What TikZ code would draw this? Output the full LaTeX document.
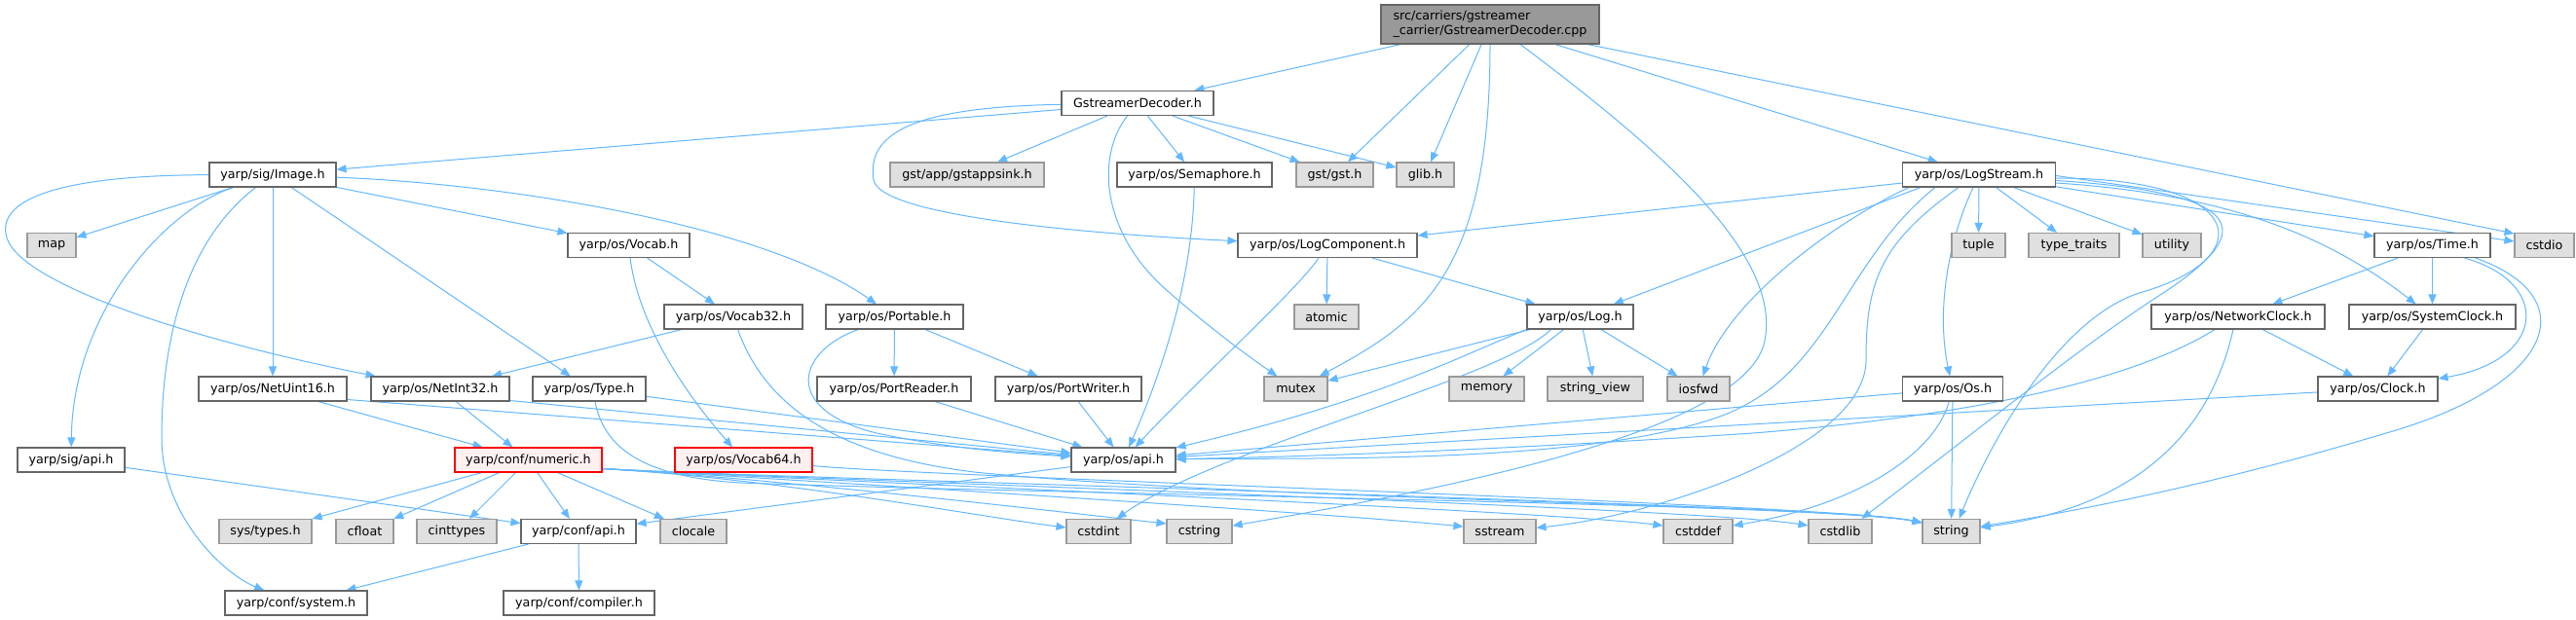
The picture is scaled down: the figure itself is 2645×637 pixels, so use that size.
\documentclass[tikz,border=0pt]{standalone}
\usepackage{fontspec}
\setmainfont{DejaVu Sans}
\usetikzlibrary{arrows.meta}
\definecolor{edgec}{HTML}{63B8FF}
\definecolor{cSix}{HTML}{666666}
\definecolor{cNine}{HTML}{999999}
\definecolor{cExt}{HTML}{E0E0E0}
\definecolor{cRed}{HTML}{FF0000}
\definecolor{cPink}{HTML}{FFF0F0}
\newcommand\dxfont{\fontsize{12.7bp}{15bp}\selectfont}
\pgfdeclarelayer{bg}
\pgfsetlayers{bg,main}
\tikzset{
 nd/.style={draw=cSix, fill=white, line width=1.1bp, minimum height=25bp, inner sep=0pt, font=\dxfont},
 ext/.style={nd, draw=cNine, fill=cExt},
 trunc/.style={nd, draw=cRed, fill=cPink},
 rootnd/.style={nd, draw=cSix, fill=cNine},
 dep/.style={draw=edgec, line width=1bp, -{Triangle[length=10bp,width=8bp]}},
}
\begin{document}
\begin{tikzpicture}[x=1bp,y=-1bp]
\useasboundingbox (0,0) rectangle (2645,637);
% nodes
\node[rootnd, minimum width=224bp, minimum height=40bp, align=left] (root) at (1530,25) {src/carriers/gstreamer\\\_carrier/GstreamerDecoder.cpp};
\node[nd, minimum width=156bp] (gdh) at (1168,106) {GstreamerDecoder.h};
\node[nd, minimum width=130bp] (image) at (280,179.5) {yarp/sig/Image.h};
\node[ext, minimum width=158bp] (gstappsink) at (993,179.5) {gst/app/gstappsink.h};
\node[nd, minimum width=159bp] (semaphore) at (1226.5,179.5) {yarp/os/Semaphore.h};
\node[ext, minimum width=79bp] (gstgst) at (1370.5,179.5) {gst/gst.h};
\node[ext, minimum width=59bp] (glib) at (1463.5,179.5) {glib.h};
\node[nd, minimum width=157bp] (logstream) at (2032,179.5) {yarp/os/LogStream.h};
\node[ext, minimum width=50bp] (map) at (53,252) {map};
\node[nd, minimum width=125bp] (vocab) at (645.5,252) {yarp/os/Vocab.h};
\node[nd, minimum width=184bp] (logcomp) at (1363,252) {yarp/os/LogComponent.h};
\node[ext, minimum width=55bp] (tuple) at (2031.5,252) {tuple};
\node[ext, minimum width=93bp] (typetraits) at (2129.5,252) {type\_traits};
\node[ext, minimum width=60bp] (utility) at (2230,252) {utility};
\node[nd, minimum width=119bp] (time) at (2497.5,252) {yarp/os/Time.h};
\node[ext, minimum width=61bp] (cstdio) at (2612.5,252) {cstdio};
\node[nd, minimum width=142bp] (vocab32) at (753,325.5) {yarp/os/Vocab32.h};
\node[nd, minimum width=141bp] (portable) at (918.5,325.5) {yarp/os/Portable.h};
\node[ext, minimum width=66bp] (atomic) at (1362,325.5) {atomic};
\node[nd, minimum width=109bp] (log) at (1622.5,325.5) {yarp/os/Log.h};
\node[nd, minimum width=178bp] (netclock) at (2298,325.5) {yarp/os/NetworkClock.h};
\node[nd, minimum width=171bp] (sysclock) at (2497.5,325.5) {yarp/os/SystemClock.h};
\node[nd, minimum width=152bp] (netuint16) at (280,399.5) {yarp/os/NetUint16.h};
\node[nd, minimum width=142bp] (netint32) at (452,399.5) {yarp/os/NetInt32.h};
\node[nd, minimum width=116bp] (type) at (605,399.5) {yarp/os/Type.h};
\node[nd, minimum width=158bp] (portreader) at (918,399.5) {yarp/os/PortReader.h};
\node[nd, minimum width=150bp] (portwriter) at (1097,399.5) {yarp/os/PortWriter.h};
\node[ext, minimum width=65bp] (mutex) at (1330.5,399.5) {mutex};
\node[ext, minimum width=77bp] (memory) at (1526.5,399.5) {memory};
\node[ext, minimum width=98bp] (stringview) at (1638,399.5) {string\_view};
\node[ext, minimum width=64bp] (iosfwd) at (1744,399.5) {iosfwd};
\node[nd, minimum width=103bp] (os) at (2005,399.5) {yarp/os/Os.h};
\node[nd, minimum width=123bp] (clock) at (2441.5,399.5) {yarp/os/Clock.h};
\node[nd, minimum width=110bp] (sigapi) at (73,472.5) {yarp/sig/api.h};
\node[trunc, minimum width=151bp] (numeric) at (542.5,472.5) {yarp/conf/numeric.h};
\node[trunc, minimum width=141bp] (vocab64) at (763.5,472.5) {yarp/os/Vocab64.h};
\node[nd, minimum width=107bp] (osapi) at (1153.5,472.5) {yarp/os/api.h};
\node[ext, minimum width=95bp] (systypes) at (272.5,546) {sys/types.h};
\node[ext, minimum width=59bp] (cfloat) at (374.5,546) {cfloat};
\node[ext, minimum width=82bp] (cinttypes) at (469,546) {cinttypes};
\node[nd, minimum width=118bp] (confapi) at (594,546) {yarp/conf/api.h};
\node[ext, minimum width=68bp] (clocale) at (712,546) {clocale};
\node[ext, minimum width=66bp] (cstdint) at (1128,546) {cstdint};
\node[ext, minimum width=67bp] (cstring) at (1231.5,546) {cstring};
\node[ext, minimum width=74bp] (sstream) at (1540,546) {sstream};
\node[ext, minimum width=71bp] (cstddef) at (1743.5,546) {cstddef};
\node[ext, minimum width=65bp] (cstdlib) at (1889.5,546) {cstdlib};
\node[ext, minimum width=59bp] (string) at (2003.5,546) {string};
\node[nd, minimum width=146bp] (confsystem) at (304,619.5) {yarp/conf/system.h};
\node[nd, minimum width=155bp] (confcompiler) at (594.5,619.5) {yarp/conf/compiler.h};

\begin{pgfonlayer}{bg}
\fill[white] (0,0) rectangle (2645,637);
% root
\draw[dep] (root) -- (gdh);
\draw[dep] (root) -- (gstgst);
\draw[dep] (root) -- (glib);
\draw[dep] (root.south) .. controls (1530,280) and (1460,330) .. (mutex);
\draw[dep] ([xshift=31bp]root.south) .. controls (1700,150) and (1830,260) .. (1812,350) .. controls (1795,440) and (1500,500) .. (cstring);
\draw[dep] (root) -- (logstream);
\draw[dep] (root) -- ([yshift=-1bp]cstdio.north west);
% GstreamerDecoder.h
\draw[dep] (gdh) -- (image);
\draw[dep] (gdh) -- (gstappsink);
\draw[dep] (gdh) -- (semaphore);
\draw[dep] (gdh) -- (gstgst);
\draw[dep] (gdh) -- (glib);
\draw[dep] (gdh) .. controls (930,110) and (890,140) .. (897,185) .. controls (905,225) and (1150,242) .. (logcomp);
\draw[dep] (gdh) .. controls (1125,160) and (1130,240) .. (1200,300) .. controls (1240,335) and (1280,365) .. (mutex);
% Image.h
\draw[dep] (image) -- (map);
\draw[dep] (image) -- (vocab);
\draw[dep] (image) .. controls (540,190) and (790,235) .. (portable);
\draw[dep] (image) -- (netuint16);
\draw[dep] (image) -- (type);
\draw[dep] (image) .. controls (60,180) and (0,205) .. (6,240) .. controls (12,290) and (200,350) .. (netint32);
\draw[dep] (image) .. controls (170,215) and (75,320) .. (sigapi);
\draw[dep] (image) .. controls (200,240) and (166,330) .. (166,450) .. controls (166,530) and (230,590) .. (confsystem);
% Vocab
\draw[dep] (vocab) -- (vocab32);
\draw[dep] (vocab) .. controls (655,330) and (700,400) .. (vocab64);
\draw[dep] (vocab32) -- (netint32);
\draw[dep] (vocab32) .. controls (790,430) and (880,470) .. (1000,485) .. controls (1300,515) and (1880,518) .. ([yshift=9bp]string.west);
\draw[dep] ([yshift=-6bp]vocab64.east) .. controls (950,490) and (1880,518) .. ([yshift=9bp]string.west);
% Portable
\draw[dep] (portable) -- (portreader);
\draw[dep] (portable) -- (portwriter);
\draw[dep] (portable) .. controls (820,360) and (800,420) .. (900,445) .. controls (980,462) and (1050,466) .. (osapi);
\draw[dep] (portreader) -- (osapi);
\draw[dep] (portwriter) -- (osapi);
\draw[dep] (semaphore) .. controls (1224,300) and (1185,400) .. (osapi);
% Net / Type
\draw[dep] (netuint16) -- (numeric);
\draw[dep] ([yshift=-11bp]netuint16.east) -- (osapi);
\draw[dep] (netint32) -- (numeric);
\draw[dep] ([yshift=-12bp]netint32.east) -- (osapi);
\draw[dep] (type) -- (osapi);
\draw[dep] ([xshift=6bp]type.south) .. controls (620,460) and (660,490) .. (760,496) .. controls (1100,508) and (1880,518) .. ([yshift=9bp]string.west);
\draw[dep] (sigapi) -- (confapi);
% numeric
\draw[dep] (numeric) -- (systypes);
\draw[dep] (numeric) -- (cfloat);
\draw[dep] (numeric) -- (cinttypes);
\draw[dep] (numeric) -- (confapi);
\draw[dep] (numeric) -- (clocale);
\coordinate (nuE) at ([yshift=-9bp]numeric.east);
\draw[dep] (nuE) .. controls (800,492) and (1000,530) .. ([yshift=4bp]cstdint.west);
\draw[dep] (nuE) .. controls (800,492) and (1080,525) .. ([yshift=8bp]cstring.west);
\draw[dep] (nuE) .. controls (800,492) and (1350,526) .. ([yshift=5bp]sstream.west);
\draw[dep] (nuE) .. controls (800,492) and (1580,524) .. ([yshift=6bp]cstddef.west);
\draw[dep] (nuE) .. controls (800,492) and (1740,521) .. ([yshift=6bp]cstdlib.west);
\draw[dep] (nuE) .. controls (800,492) and (1880,518) .. ([yshift=9bp]string.west);
% conf
\draw[dep] (confapi) -- (confsystem);
\draw[dep] (confapi) -- (confcompiler);
\draw[dep] (osapi) -- (confapi);
% LogComponent
\draw[dep] (logcomp) -- (atomic);
\draw[dep] (logcomp) -- (log);
\draw[dep] (logcomp) .. controls (1330,300) and (1230,390) .. (osapi);
% Log
\draw[dep] (log) -- (mutex);
\draw[dep] (log.south west) .. controls (1500,365) and (1420,410) .. (osapi);
\draw[dep] (log) -- (memory);
\draw[dep] (log) -- (stringview);
\draw[dep] (log) -- (iosfwd);
\draw[dep] ([xshift=-30bp]log.south) .. controls (1540,390) and (1250,460) .. (cstdint);
% LogStream
\draw[dep] (logstream) -- (logcomp);
\draw[dep] ([xshift=-60bp]logstream.south) -- (log);
\draw[dep] ([xshift=-72bp]logstream.south) .. controls (1880,230) and (1775,310) .. (iosfwd);
\draw[dep] ([xshift=-45bp]logstream.south) .. controls (1890,270) and (1880,390) .. (1760,430) .. controls (1620,477) and (1350,470) .. (osapi);
\draw[dep] ([xshift=-21bp]logstream.south) .. controls (1930,250) and (1916,290) .. (1916,370) .. controls (1916,460) and (1700,530) .. (sstream);
\draw[dep] (logstream) .. controls (1995,260) and (1990,330) .. (os);
\draw[dep] (logstream) -- (tuple);
\draw[dep] (logstream) -- (typetraits);
\draw[dep] (logstream) -- (utility);
\draw[dep] (logstream) -- (time);
\draw[dep] ([yshift=-1bp]logstream.east) -- ([yshift=4bp]cstdio.west);
\draw[dep] ([yshift=-3.5bp]logstream.east) .. controls (2310,183) and (2320,265) .. (2200,300) .. controls (2120,323) and (2050,440) .. ([xshift=8bp]string.north);
\draw[dep] ([yshift=-6bp]logstream.east) .. controls (2340,200) and (2300,250) .. (2215,305) .. controls (2138,355) and (2020,450) .. ([xshift=22bp]cstdlib.north);
\draw[dep] ([yshift=-8.5bp]logstream.east) .. controls (2300,200) and (2400,250) .. (sysclock);
% Time
\draw[dep] (time) -- (netclock);
\draw[dep] (time) -- (sysclock);
\draw[dep] ([xshift=33bp]time.south) .. controls (2620,290) and (2615,370) .. (clock);
\draw[dep] ([xshift=44bp]time.south) .. controls (2655,305) and (2625,395) .. (2450,445) .. controls (2250,505) and (2100,530) .. (string);
% Clocks
\draw[dep] (netclock) -- (clock);
\draw[dep] ([xshift=-24bp]netclock.south) .. controls (2200,385) and (2050,425) .. (1800,445) .. controls (1500,465) and (1300,470) .. (osapi);
\draw[dep] ([xshift=-5bp]netclock.south) .. controls (2270,440) and (2200,520) .. (string);
\draw[dep] (sysclock) -- (clock);
\draw[dep] (clock) -- (osapi);
% Os
\draw[dep] (os) -- (osapi);
\draw[dep] (os) .. controls (1985,470) and (1900,520) .. (cstddef);
\draw[dep] (os) -- (string);
\end{pgfonlayer}
\end{tikzpicture}
\end{document}
